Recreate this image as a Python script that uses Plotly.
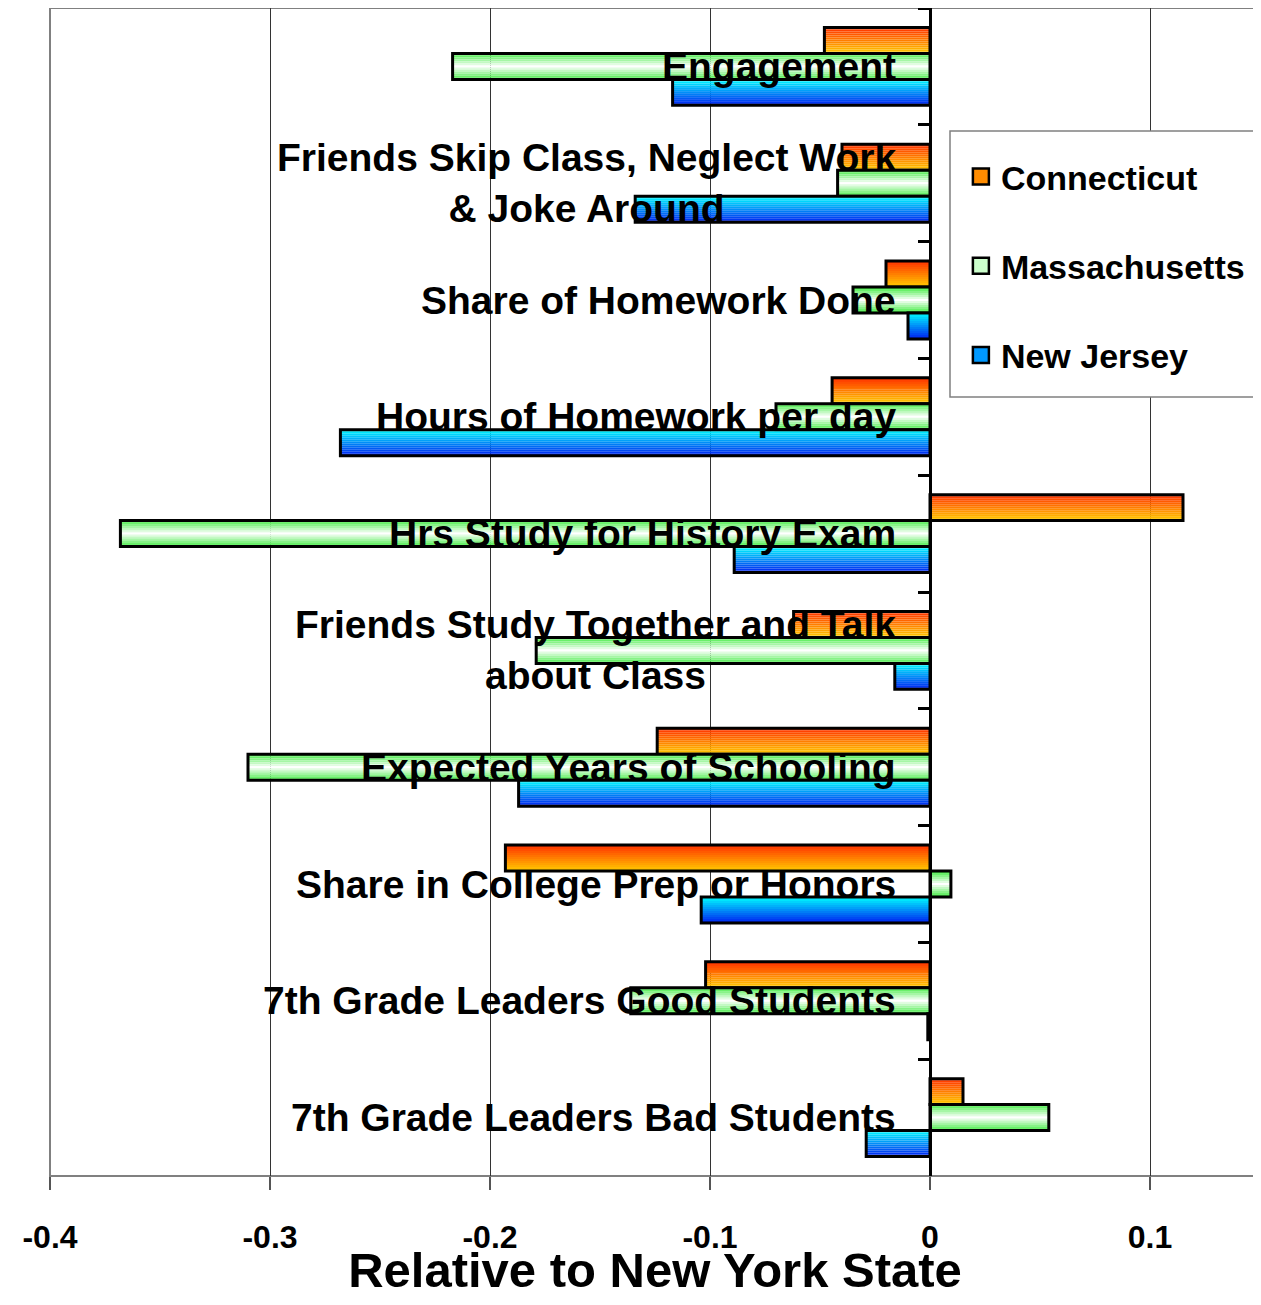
import plotly.graph_objects as go

# ---------------- data ----------------
categories = [
    "Engagement",
    "Friends Skip Class, Neglect Work<br>& Joke Around",
    "Share of Homework Done",
    "Hours of Homework per day",
    "Hrs Study for History Exam",
    "Friends Study Together and Talk<br>about Class",
    "Expected Years of Schooling",
    "Share in College Prep or Honors",
    "7th Grade Leaders Good Students",
    "7th Grade Leaders Bad Students",
]
connecticut = [-0.048, -0.040, -0.020, -0.0445, 0.115, -0.062, -0.124, -0.193, -0.102, 0.015]
massachusetts = [-0.217, -0.042, -0.035, -0.070, -0.368, -0.179, -0.310, 0.0095, -0.136, 0.054]
new_jersey = [-0.117, -0.134, -0.010, -0.268, -0.089, -0.016, -0.187, -0.104, -0.001, -0.029]
series_names = ["Connecticut", "Massachusetts", "New Jersey"]
x_tick_values = [-0.4, -0.3, -0.2, -0.1, 0, 0.1]
x_tick_labels = ["-0.4", "-0.3", "-0.2", "-0.1", "0", "0.1"]
x_title = "Relative to New York State"

# ---------------- style ----------------
FONT = "Arial, Liberation Sans, Helvetica, sans-serif"
series_values = [connecticut, massachusetts, new_jersey]
# gradient stops (top -> bottom of each bar)
gradients = [
    [(0.0, (255, 48, 0)), (1.0, (255, 204, 0))],
    [(0.0, (60, 235, 60)), (0.5, (255, 255, 255)), (1.0, (60, 235, 60))],
    [(0.0, (0, 255, 255)), (1.0, (0, 30, 240))],
]
legend_colors = ["#FF8C00", "#CCFFCC", "#0099FF"]


def grad_color(stops, t):
    for (t0, c0), (t1, c1) in zip(stops[:-1], stops[1:]):
        if t0 <= t <= t1:
            f = (t - t0) / (t1 - t0) if t1 > t0 else 0
            c = [round(a + (b - a) * f) for a, b in zip(c0, c1)]
            return "rgb(%d,%d,%d)" % tuple(c)
    c = stops[-1][1]
    return "rgb(%d,%d,%d)" % c


group_width = 0.667
bar_w = group_width / 3
N_STRIPES = 13

fig = go.Figure()

for s, (name, vals) in enumerate(zip(series_names, series_values)):
    base_off = -group_width / 2 + s * bar_w
    for k in range(N_STRIPES):
        t = (k + 0.5) / N_STRIPES
        fig.add_trace(go.Bar(
            x=vals, y=categories, orientation="h",
            offset=base_off + k * bar_w / N_STRIPES,
            width=bar_w / N_STRIPES * 1.02,
            marker=dict(color=grad_color(gradients[s], t), line=dict(width=0)),
            showlegend=False, hoverinfo="skip",
        ))
    # outline
    fig.add_trace(go.Bar(
        x=vals, y=categories, orientation="h",
        offset=base_off, width=bar_w,
        marker=dict(color="rgba(0,0,0,0)", line=dict(color="black", width=3)),
        showlegend=False, name=name,
    ))

# legend entries
for s, name in enumerate(series_names):
    fig.add_trace(go.Scatter(
        x=[None], y=[None], mode="markers", name=name,
        legendgroup=name,
        marker=dict(symbol="square", size=22, color=legend_colors[s],
                    line=dict(color="black", width=2.5)),
    ))

# category labels next to zero axis
for cat in categories:
    fig.add_annotation(
        x=0, y=cat, xref="x", yref="y", text=cat, showarrow=False,
        xanchor="right", yanchor="middle", align="center", xshift=-32,
        font=dict(family=FONT, size=39, color="black", weight="bold"),
    )

zero_pos = 0.4 / 0.55

# figure sits 8px inside the page (body margin)
FIG_W, FIG_H = 1253, 1289
PLOT_H = 1168

fig.update_layout(
    width=FIG_W, height=FIG_H,
    margin=dict(l=42, r=1, t=0, b=FIG_H - PLOT_H),
    paper_bgcolor="white", plot_bgcolor="white",
    barmode="overlay",
    font=dict(family=FONT, color="black"),
    xaxis=dict(
        range=[-0.4, 0.15], tickvals=x_tick_values, ticktext=x_tick_labels,
        showgrid=True, gridcolor="#333333", gridwidth=1, zeroline=False,
        ticks="outside", ticklen=13, tickwidth=1.5, tickcolor="#555555",
        tickfont=dict(family=FONT, size=32, color="black", weight="bold"),
        ticklabelstandoff=20,
        showline=False,
        title=dict(text=x_title, standoff=6,
                   font=dict(family=FONT, size=49, color="black", weight="bold")),
    ),
    yaxis=dict(
        type="category", categoryorder="array", categoryarray=categories,
        range=[9.5, -0.5], anchor="free", position=zero_pos,
        showline=True, linecolor="black", linewidth=3,
        ticks="outside", tickson="boundaries", ticklen=11, tickwidth=3,
        tickcolor="black", showgrid=False, showticklabels=False, zeroline=False,
    ),
    legend=dict(
        x=(950 - 50) / 1210 + 0.009, y=(1176 - 148) / PLOT_H,
        xanchor="left", yanchor="top",
        bgcolor="rgba(0,0,0,0)", borderwidth=0,
        font=dict(family=FONT, size=34, color="black", weight="bold"),
        tracegroupgap=42, itemwidth=30,
    ),
    shapes=[
        dict(type="rect", xref="paper", yref="paper", x0=0, x1=1, y0=0, y1=1,
             line=dict(color="#808080", width=2), layer="below"),
        dict(type="rect", xref="paper", yref="paper",
             x0=(950 - 50) / 1210, x1=1.02,
             y0=(1176 - 397) / PLOT_H, y1=(1176 - 131) / PLOT_H,
             fillcolor="white", line=dict(color="#808080", width=1.5), layer="above"),
    ],
)

fig.write_html("out.html")
